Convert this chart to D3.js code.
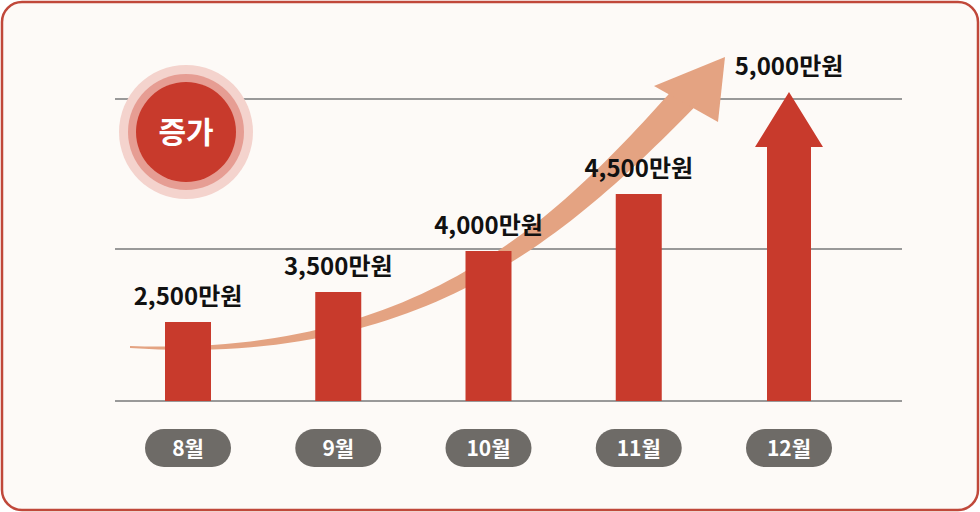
<!DOCTYPE html><html><head><meta charset="utf-8">
<script src="https://cdn.jsdelivr.net/npm/d3@7"></script>
<style>body{margin:0;background:#fff}text{font-family:"Noto Sans CJK KR","Noto Sans",sans-serif}</style></head>
<body><svg id="c" width="980" height="512"></svg>
<script>
const months=["8월","9월","10월","11월","12월"];
const values=[2500,3500,4000,4500,5000];
const labels=["2,500만원","3,500만원","4,000만원","4,500만원","5,000만원"];
const gridValues=[0,4000,5000];
const svg=d3.select("#c");
svg.append("rect").attr("x",2).attr("y",2).attr("width",976).attr("height",508).attr("rx",20).attr("fill","#fdfaf7").attr("stroke","#c0483a").attr("stroke-width",2.5);
const x=d3.scalePoint().domain(months).range([188,789]);
// pictorial (non-linear) value axis as drawn in the original
const y=d3.scaleLinear().domain([0,2500,3500,4000,4500,5000]).range([401,322,292,251,194,92]);
const gy=d3.scaleLinear().domain([0,4000,5000]).range([401,249,99]);
svg.selectAll(".g").data(gridValues).join("line").attr("x1",115).attr("x2",902)
 .attr("y1",d=>gy(d)).attr("y2",d=>gy(d)).attr("stroke","#999").attr("stroke-width",2);
// curved trend arrow
const P0=[130,347],P1=[420,362],P2=[560,230],P3=[684,98];
const bez=(t,i)=>(1-t)**3*P0[i]+3*(1-t)**2*t*P1[i]+3*(1-t)*t*t*P2[i]+t**3*P3[i];
const L=[],R=[];
for(let k=0;k<=60;k++){const t=k/60,px=bez(t,0),py=bez(t,1);
 const dx=bez(Math.min(t+.01,1),0)-bez(Math.max(t-.01,0),0),dy=bez(Math.min(t+.01,1),1)-bez(Math.max(t-.01,0),1);
 const n=Math.hypot(dx,dy),w=(2+26*t)/2;L.push([px-dy/n*w,py+dx/n*w]);R.push([px+dy/n*w,py-dx/n*w]);}
svg.append("path").attr("d",d3.line()(L.concat(R.reverse()))+"Z").attr("fill","#e4a382");
svg.append("path").attr("d","M725,57L654,86L718,122Z").attr("fill","#e4a382");
// bars
svg.selectAll(".b").data(values.slice(0,4)).join("rect").attr("x",(d,i)=>x(months[i])-23).attr("width",46)
 .attr("y",d=>y(d)).attr("height",d=>y(0)-y(d)).attr("fill","#c83a2c");
const ax=x(months[4]),tipY=y(values[4]);
svg.append("path").attr("d",`M${ax-22},${y(0)}V${tipY+55}H${ax-34}L${ax},${tipY}L${ax+34},${tipY+55}H${ax+22}V${y(0)}Z`).attr("fill","#c83a2c");
svg.selectAll(".l").data(labels).join("text").attr("x",(d,i)=>x(months[i])).attr("y",(d,i)=>y(values[i])-17)
 .attr("text-anchor","middle").attr("font-size",24).attr("font-weight",700).attr("fill","#111").text(d=>d);
// month pills
const pg=svg.selectAll(".p").data(months).join("g").attr("transform",d=>`translate(${x(d)},448)`);
pg.append("rect").attr("x",-43).attr("y",-19).attr("width",86).attr("height",38).attr("rx",19).attr("fill","#6e6b67");
pg.append("text").attr("y",8).attr("text-anchor","middle").attr("font-size",21).attr("font-weight",700).attr("fill","#fff").text(d=>d);
// badge
svg.append("circle").attr("cx",186).attr("cy",132).attr("r",67).attr("fill","#f4d3cd");
svg.append("circle").attr("cx",186).attr("cy",132).attr("r",58).attr("fill","#e69d93");
svg.append("circle").attr("cx",186).attr("cy",132).attr("r",50).attr("fill","#c83a2c");
svg.append("text").attr("x",186).attr("y",143).attr("text-anchor","middle").attr("font-size",30).attr("font-weight",700).attr("fill","#fff").text("증가");
</script></body></html>
